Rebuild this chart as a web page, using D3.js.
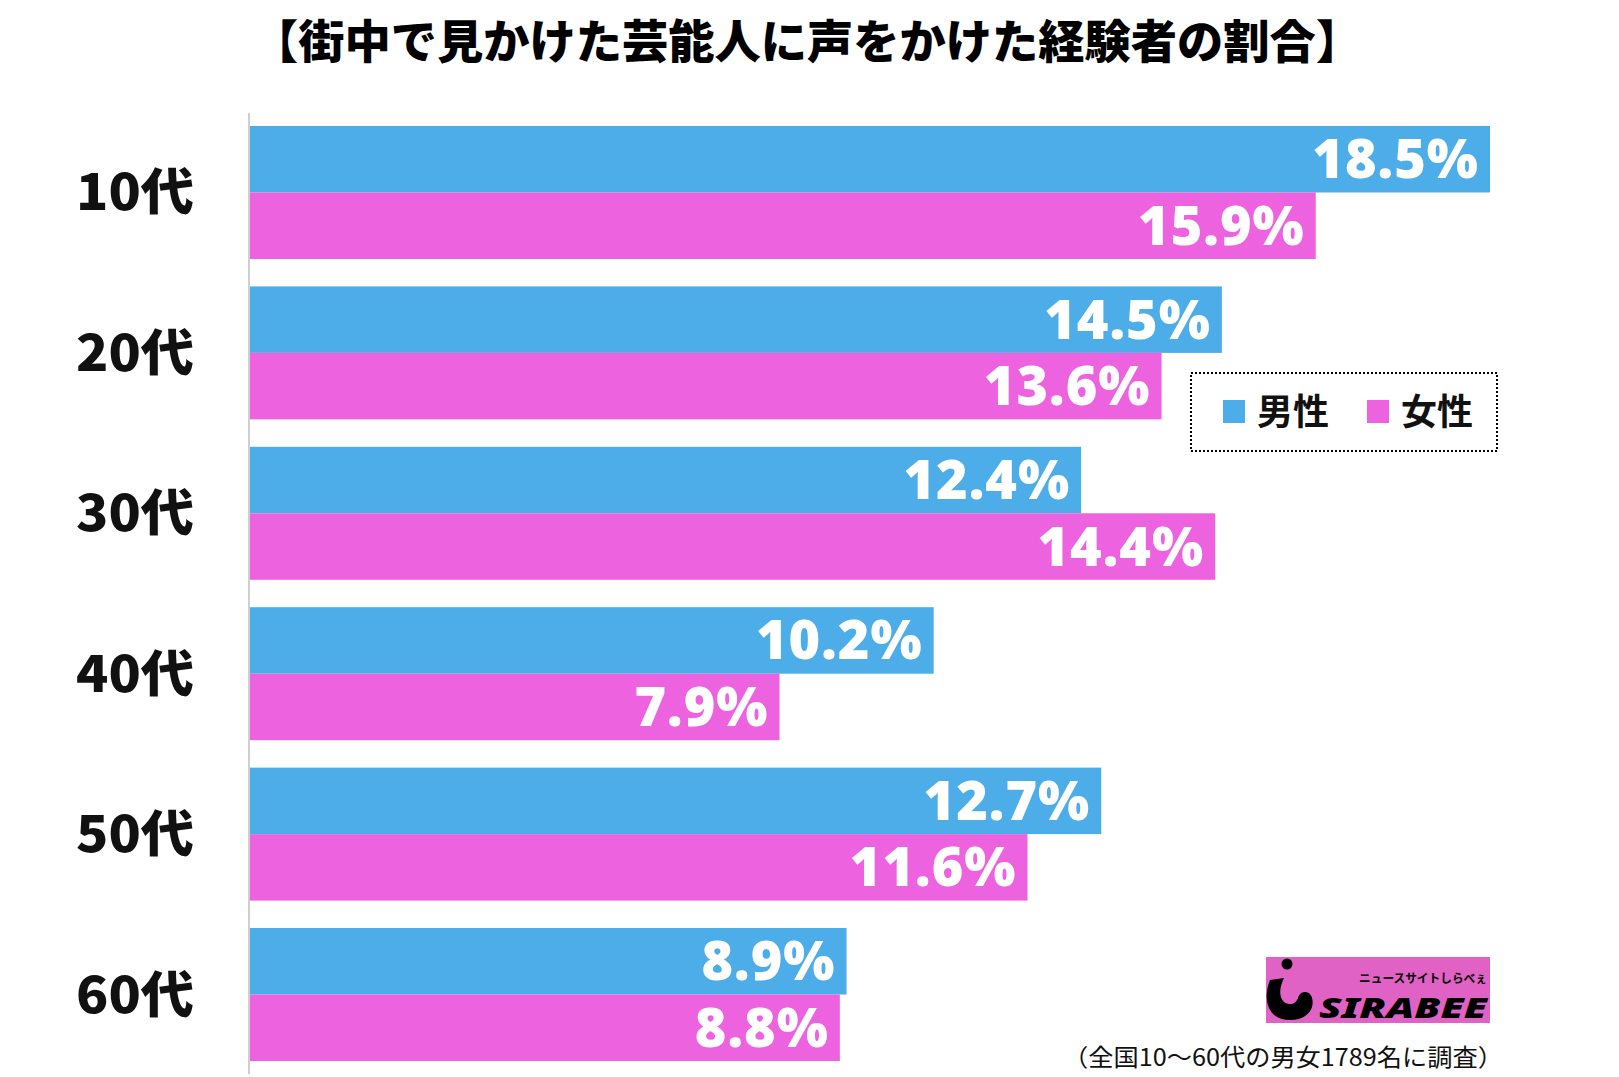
<!DOCTYPE html>
<html><head><meta charset="utf-8">
<script src="https://cdn.jsdelivr.net/npm/d3@7"></script>
<style>body{margin:0;background:#fff}svg{display:block}</style>
</head><body>
<script>
const categories = ["10代","20代","30代","40代","50代","60代"];
const seriesNames = ["男性","女性"];
const male = [18.5,14.5,12.4,10.2,12.7,8.9];
const female = [15.9,13.6,14.4,7.9,11.6,8.8];
const colors = ["#4CADE8","#EC62DF"];
const title = "【街中で見かけた芸能人に声をかけた経験者の割合】";
const note = "（全国10〜60代の男女1789名に調査）";

const W=1619,H=1077;
const svg=d3.select("body").append("svg").attr("width",W).attr("height",H);
const x=d3.scaleLinear().domain([0,18.5]).range([250,1490]);
const y=d3.scaleBand().domain(categories).range([126,1061]).paddingInner(0.171).paddingOuter(0);
const ys=d3.scaleBand().domain(seriesNames).range([0,y.bandwidth()]);

svg.append("text").attr("x",807).attr("y",58).attr("text-anchor","middle")
 .attr("font-family","'Noto Sans CJK JP'").attr("font-weight",900).attr("font-size",46)
 .attr("textLength",1110).attr("lengthAdjust","spacingAndGlyphs").text(title);

const data=[male,female];
const g=svg.append("g");
categories.forEach((c,i)=>{
  seriesNames.forEach((s,j)=>{
    const v=data[j][i];
    g.append("rect").attr("x",x(0)).attr("y",y(c)+ys(s)).attr("width",x(v)-x(0)).attr("height",ys.bandwidth()).attr("fill",colors[j]);
    g.append("text").attr("x",x(v)-11).attr("y",y(c)+ys(s)+ys.bandwidth()/2+19)
     .attr("text-anchor","end").attr("fill","#fff").attr("font-family","'Noto Sans'").attr("font-weight",900)
     .attr("font-size",54).attr("letter-spacing",1).text(v.toFixed(1)+"%");
  });
  svg.append("text").attr("x",194).attr("y",y(c)+y.bandwidth()/2+18).attr("text-anchor","end")
   .attr("font-family","'Noto Sans CJK JP'").attr("font-weight",900).attr("font-size",50).attr("fill","#111")
   .attr("textLength",118).attr("lengthAdjust","spacingAndGlyphs").text(c);
});

svg.append("line").attr("x1",249).attr("x2",249).attr("y1",113).attr("y2",1074).attr("stroke","#cfcfcf").attr("stroke-width",2);

// legend
const lg=svg.append("g");
lg.append("rect").attr("x",1191).attr("y",373).attr("width",306).attr("height",78).attr("fill","#fff")
 .attr("stroke","#000").attr("stroke-width",2).attr("stroke-dasharray","2,2");
const lx=[1223,1367], tx=[1257,1401];
seriesNames.forEach((s,j)=>{
  lg.append("rect").attr("x",lx[j]).attr("y",400).attr("width",22).attr("height",23).attr("fill",colors[j]);
  lg.append("text").attr("x",tx[j]).attr("y",425).attr("font-family","'Noto Sans CJK JP'").attr("font-weight",700)
   .attr("font-size",36).attr("fill","#111").text(s);
});

// logo
const lo=svg.append("g");
lo.append("rect").attr("x",1266).attr("y",957).attr("width",224).attr("height",66).attr("fill","#E062C4");
lo.append("circle").attr("cx",1287).attr("cy",964).attr("r",5.5).attr("fill","#000");
lo.append("path").attr("d","M1270,980 C1262,1000 1268,1020 1290,1020 C1308,1020 1315,1008 1312,998 C1310,990 1300,990 1298,998 C1296,1004 1290,1006 1284,1002 C1278,996 1280,986 1284,978 Z").attr("fill","#000");
lo.append("text").attr("x",1487).attr("y",1018).attr("text-anchor","end").attr("font-family","'Noto Sans'")
 .attr("font-weight",900).attr("font-style","italic").attr("font-size",29).attr("textLength",168).attr("lengthAdjust","spacingAndGlyphs").text("SIRABEE");
lo.append("text").attr("x",1487).attr("y",983).attr("text-anchor","end").attr("font-family","'Noto Sans CJK JP'")
 .attr("font-weight",700).attr("font-size",12).attr("textLength",128).attr("lengthAdjust","spacingAndGlyphs").text("ニュースサイトしらべぇ");

svg.append("text").attr("x",1503).attr("y",1066).attr("text-anchor","end").attr("font-family","'Noto Sans CJK JP'")
 .attr("font-size",24).attr("fill","#111").attr("textLength",440).attr("lengthAdjust","spacingAndGlyphs").text(note);
</script>
</body></html>
